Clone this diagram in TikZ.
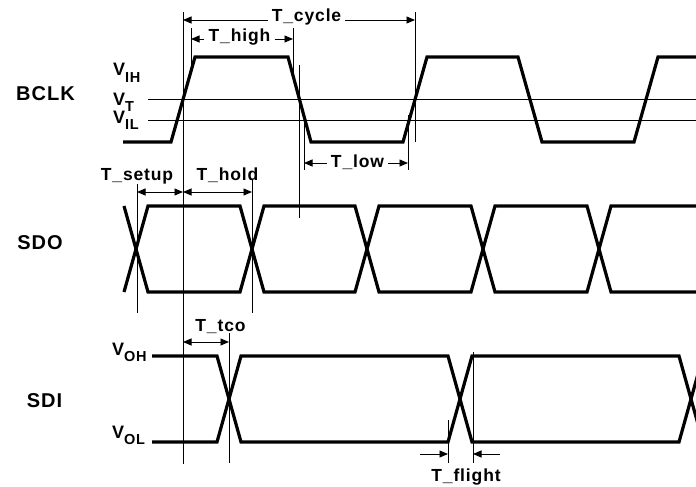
\documentclass[tikz,border=0pt]{standalone}
\usepackage{fontspec}
\setmainfont{Liberation Sans}[LetterSpace=5]
\usetikzlibrary{arrows.meta,positioning,calc}

\newcommand{\vlab}[1]{V\raisebox{-6pt}{\fontsize{14.5}{14.5}\selectfont #1}}

\tikzset{
  sigline/.style={line width=3.2pt, line join=miter},
  guide/.style={line width=0.9pt},
  dimarrow/.style={guide, -{Triangle[length=8.5pt,width=7pt]}},
  dimboth/.style={guide, {Triangle[length=8.5pt,width=7pt]}-{Triangle[length=8.5pt,width=7pt]}},
  tlabel/.style={font=\fontsize{17.5}{17.5}\selectfont\bfseries, anchor=base, inner sep=0pt, inner xsep=4pt},
  signame/.style={font=\fontsize{20}{20}\selectfont\bfseries, anchor=base, inner sep=0pt},
  levname/.style={font=\fontsize{18}{18}\selectfont\bfseries, anchor=base west, inner sep=0pt},
}

\begin{document}
\begin{tikzpicture}[x=1pt, y=-1pt]
\clip (0,0) rectangle (696,487);
\fill[white] (0,0) rectangle (696,487);

% signal names
\node[signame] (bclk) at (45.5,100) {BCLK};
\node[signame] (sdo) at (40,249) {SDO};
\node[signame] (sdi) at (44.5,407) {SDI};

% level names
\node[levname] (vih) at (113,76) {\vlab{IH}};
\node[levname] (vt) at (113,105) {\vlab{T}};
\node[levname] (vil) at (113,123) {\vlab{IL}};
\node[levname] (voh) at (112,355) {\vlab{OH}};
\node[levname] (vol) at (112,438) {\vlab{OL}};

% threshold lines
\draw[guide] (148,99) -- (696,99);
\draw[guide] (148,120) -- (696,120);

% BCLK
\draw[sigline] (123,142) -- (171,142) -- (195,57) -- (288,57) -- (311,142)
  -- (403,142) -- (427,57) -- (518,57) -- (542,142) -- (634,142) -- (658,57) -- (700,57);

% SDO
\draw[sigline] (124,206) -- (148,292) -- (240,292) -- (264,206) -- (355,206) -- (379,292)
  -- (471,292) -- (495,206) -- (587,206) -- (611,292) -- (700,292);
\draw[sigline] (124,292) -- (148,206) -- (240,206) -- (264,292) -- (355,292) -- (379,206)
  -- (471,206) -- (495,292) -- (587,292) -- (611,206) -- (700,206);

% SDI
\draw[sigline] (152,356) -- (217,356) -- (241,442) -- (448,442) -- (472,356) -- (679,356) -- (703,442);
\draw[sigline] (152,442) -- (217,442) -- (241,356) -- (448,356) -- (472,442) -- (679,442) -- (703,356);

% timing marks
\coordinate (cyL) at (183,20);
\coordinate (cyR) at (415,20);
\coordinate (hiL) at (191,39);
\coordinate (hiR) at (293,39);
\coordinate (loL) at (304,163);
\coordinate (loR) at (408,163);
\coordinate (suL) at (137,192);
\coordinate (suR) at (183,192);
\coordinate (hoR) at (252,192);
\coordinate (tcL) at (183,342);
\coordinate (tcR) at (229,342);
\coordinate (flL) at (448,454);
\coordinate (flR) at (473,454);

\draw[guide] (183,12) -- (183,464);
\draw[guide] (191,28) -- (191,71);
\draw[guide] (293,28) -- (293,75);
\draw[guide] (299,65) -- (299,218);
\draw[guide] (304,120) -- (304,170);
\draw[guide] (408,115) -- (408,170);
\draw[guide] (415,12) -- (415,142);
\draw[guide] (137,184) -- (137,313);
\draw[guide] (252,180) -- (252,313);
\draw[guide] (229,333) -- (229,463);
\draw[guide] (448,420) -- (448,463);
\draw[guide] (473,352) -- (473,463);

% T_cycle
\node[tlabel] (tcyc) at (306.5,21.5) {T\_cycle};
\draw[dimarrow] (cyL -| tcyc.west) -- (cyL);
\draw[dimarrow] (cyR -| tcyc.east) -- (cyR);
% T_high
\node[tlabel] (thigh) at (239.5,42) {T\_high};
\draw[dimarrow] (hiL -| thigh.west) -- (hiL);
\draw[dimarrow] (hiR -| thigh.east) -- (hiR);
% T_low
\node[tlabel] (tlow) at (357.5,167) {T\_low};
\draw[dimarrow] (loL -| tlow.west) -- (loL);
\draw[dimarrow] (loR -| tlow.east) -- (loR);
% T_setup, T_hold
\node[tlabel] (tsetup) at (137,180) {T\_setup};
\node[tlabel] (thold) at (227.5,180) {T\_hold};
\draw[dimboth] (suL) -- (suR);
\draw[dimboth] (suR) -- (hoR);
% T_tco
\node[tlabel] (ttco) at (220.5,331) {T\_tco};
\draw[dimboth] (tcL) -- (tcR);
% T_flight
\node[tlabel] (tflight) at (466,481) {T\_flight};
\draw[dimarrow] ($(flL)+(-28,0)$) -- (flL);
\draw[dimarrow] ($(flR)+(27,0)$) -- (flR);
\end{tikzpicture}
\end{document}
